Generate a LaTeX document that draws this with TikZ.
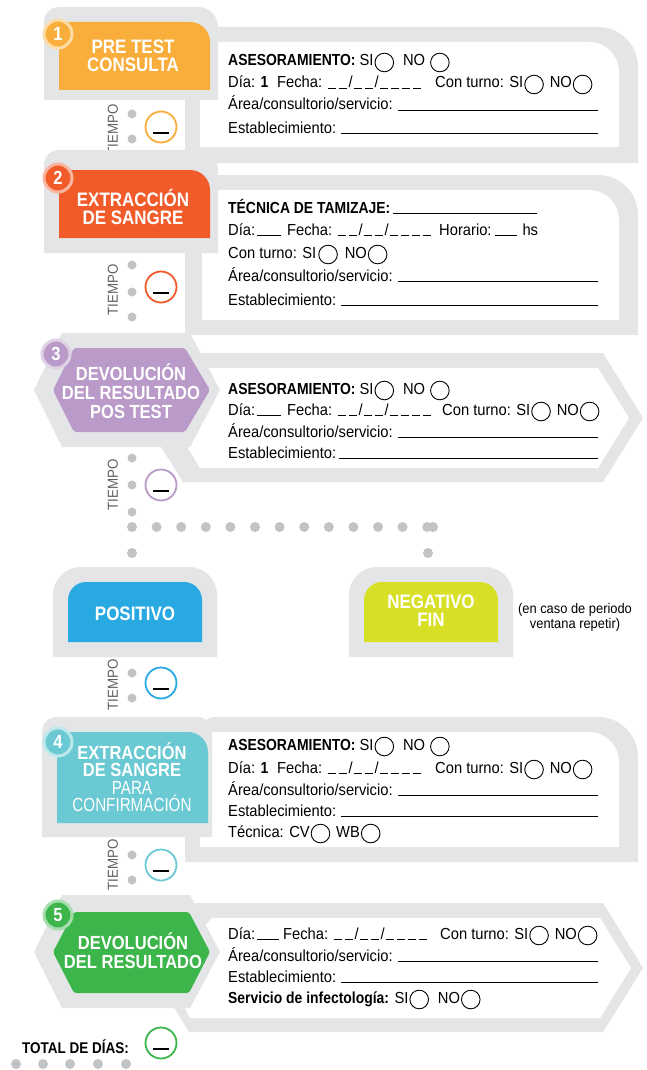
\documentclass[tikz,border=0pt]{standalone}
\usepackage{fontspec}
\setmainfont{Liberation Sans}[FakeStretch=0.92,BoldFeatures={FakeStretch=0.87}]
\newfontfamily\estrecha{Liberation Sans}[FakeStretch=0.8]

\definecolor{framegrey}{HTML}{E4E5E6}
\definecolor{dotgrey}{HTML}{C2C3C5}
\definecolor{pretest}{HTML}{F9AE3B}
\definecolor{extraccion}{HTML}{F15B2A}
\definecolor{devolucion}{HTML}{B99AC8}
\definecolor{positivo}{HTML}{29A9E1}
\definecolor{negativo}{HTML}{D7DF27}
\definecolor{confirma}{HTML}{6AC9D2}
\definecolor{resultado}{HTML}{3CB54A}

\newcommand\circulo{\tikz[baseline=-3.5pt]\draw[line width=0.9pt] (0,0) circle (9.3pt);}
\newcommand\hueco[1]{\rule[-1pt]{#1}{0.9pt}}
\newcommand\fecha{\hueco{8pt}\kern3pt\hueco{8pt}\kern2pt/\kern1pt\hueco{8pt}\kern3pt\hueco{8pt}\kern2pt/\kern1pt\hueco{8pt}\kern3pt\hueco{8pt}\kern3pt\hueco{8pt}\kern3pt\hueco{8pt}}
\newcommand\formfont{\fontsize{16}{18}\selectfont}
\newcommand\titlefont{\fontsize{19.5}{18}\selectfont\bfseries}

\begin{document}
\begin{tikzpicture}[x=1pt,y=-1pt,
  insignia/.style={circle,fill=#1,draw=#1!45!white,line width=3pt,minimum size=28pt,inner sep=0pt,text=white,font=\fontsize{19}{19}\selectfont\bfseries},
  titulo/.style={text=white,align=center,font=\titlefont,inner sep=0pt},
  tiempo/.style={rotate=90,text=black!62,font=\fontsize{14.5}{15}\selectfont,inner sep=0pt},
  reloj/.style={circle,draw=#1,line width=1.8pt,fill=white,minimum size=31pt,inner sep=0pt},
  campo/.style={anchor=base west,inner sep=0pt,font=\formfont},
  raya/.style={line width=0.9pt},
  guion/.style={line width=1.2pt}]
\useasboundingbox[fill=white] (0,0) rectangle (647,1070);
\coordinate (fin) at (598,0);
\coordinate (fintec) at (537,0);

% 1 pre test
\fill[framegrey] (185,163) -- (185,27) -- (598,27) arc[start angle=-90,end angle=0,radius=40] -- (638,163) -- cycle;
\fill[white] (200,147) -- (200,50) arc[start angle=180,end angle=270,radius=8] -- (589,42) arc[start angle=-90,end angle=0,radius=30] -- (619,147) -- cycle;
\fill[framegrey] (44,100) -- (44,22) arc[start angle=180,end angle=270,radius=15] -- (198,7) arc[start angle=-90,end angle=0,radius=20] -- (218,100) -- cycle;
\fill[pretest] (59,90) -- (59,28) arc[start angle=180,end angle=270,radius=6] -- (190,22) arc[start angle=-90,end angle=0,radius=20] -- (210,90) -- cycle;
\node[titulo] (s1t) at (133,56) {PRE TEST\\CONSULTA};
\node[insignia=pretest] (s1n) at (58,34) {1};
\node[campo] (s1a) at (228,66) {\textbf{ASESORAMIENTO:} SI\kern1pt\circulo\hspace{9pt}NO\hspace{5pt}\circulo};
\node[campo] (s1b) at (228,88) {\makebox[49pt][l]{Día: \textbf{1}}\makebox[158pt][l]{Fecha: \fecha}Con turno: SI\kern1pt\circulo\hspace{6pt}NO\kern1pt\circulo};
\node[campo] (s1c) at (228,110) {Área/consultorio/servicio:};
\node[campo] (s1d) at (228,133) {Establecimiento:};
\draw[raya] ([xshift=5pt]s1c.base east) -- (s1c.base east -| fin);
\draw[raya] ([xshift=5pt]s1d.base east) -- (s1d.base east -| fin);
\node[tiempo] (s1tiempo) at (113,130) {TIEMPO};
\foreach \y in {114,139} \fill[dotgrey] (132,\y) circle (4.5);
\node[reloj=pretest] (s1reloj) at (161,127) {};
\draw[guion] ([shift={(-8,6)}]s1reloj.center) -- ++(16,0);

% 2 extraccion
\fill[framegrey] (185,335) -- (185,175) -- (598,175) arc[start angle=-90,end angle=0,radius=40] -- (638,335) -- cycle;
\fill[white] (202,320) -- (202,198) arc[start angle=180,end angle=270,radius=8] -- (589,190) arc[start angle=-90,end angle=0,radius=30] -- (619,320) -- cycle;
\fill[framegrey] (44,253) -- (44,165) arc[start angle=180,end angle=270,radius=15] -- (198,150) arc[start angle=-90,end angle=0,radius=20] -- (218,253) -- cycle;
\fill[extraccion] (59,238) -- (59,176) arc[start angle=180,end angle=270,radius=6] -- (190,170) arc[start angle=-90,end angle=0,radius=20] -- (210,238) -- cycle;
\node[titulo] (s2t) at (133,207) {EXTRACCIÓN\\DE SANGRE};
\node[insignia=extraccion] (s2n) at (58,178) {2};
\node[campo] (s2a) at (228,213) {\textbf{TÉCNICA DE TAMIZAJE:}};
\draw[raya] ([xshift=2pt]s2a.base east) -- (s2a.base east -| fintec);
\node[campo] (s2b) at (228,235) {\makebox[59pt][l]{Día:\kern2pt\hueco{24pt}}\makebox[152pt][l]{Fecha: \fecha}Horario:\kern3pt\hueco{22pt}\kern6pt hs};
\node[campo] (s2c) at (228,258) {Con turno: SI\kern2pt\circulo\hspace{7pt}NO\kern1pt\circulo};
\node[campo] (s2d) at (228,281) {Área/consultorio/servicio:};
\node[campo] (s2e) at (228,305) {Establecimiento:};
\draw[raya] ([xshift=5pt]s2d.base east) -- (s2d.base east -| fin);
\draw[raya] ([xshift=5pt]s2e.base east) -- (s2e.base east -| fin);
\node[tiempo] (s2tiempo) at (113,290) {TIEMPO};
\foreach \y in {265,292,317} \fill[dotgrey] (132,\y) circle (4.5);
\node[reloj=extraccion] (s2reloj) at (161,287) {};
\draw[guion] ([shift={(-8,6)}]s2reloj.center) -- ++(16,0);

% 3 devolucion pos test
\fill[framegrey] (183,353) -- (603,353) -- (643,418) -- (603,482) -- (183,482) -- (143,418) -- cycle;
\fill[white] (205,368) -- (598,368) -- (629,418) -- (598,468) -- (200,468) -- (170,418) -- cycle;
\fill[framegrey] (62,333) -- (190,333) -- (220,390) -- (190,447) -- (62,447) -- (34,390) -- cycle;
\fill[devolucion, rounded corners=2pt] (74,348) -- (185,348) -- (210,390) -- (185,432) -- (74,432) -- (53,390) -- cycle;
\node[titulo,font=\fontsize{19}{19}\selectfont\bfseries] (s3t) at (131,391) {DEVOLUCIÓN\\DEL RESULTADO\\POS TEST};
\node[insignia=devolucion] (s3n) at (56,354) {3};
\node[campo] (s3a) at (228,394) {\textbf{ASESORAMIENTO:} SI\kern1pt\circulo\hspace{9pt}NO\hspace{5pt}\circulo};
\node[campo] (s3b) at (228,415) {\makebox[59pt][l]{Día:\kern2pt\hueco{24pt}}\makebox[155pt][l]{Fecha: \fecha}Con turno: SI\kern1pt\circulo\hspace{6pt}NO\kern1pt\circulo};
\node[campo] (s3c) at (228,437) {Área/consultorio/servicio:};
\node[campo] (s3d) at (228,458) {Establecimiento:};
\draw[raya] ([xshift=5pt]s3c.base east) -- (s3c.base east -| fin);
\draw[raya] ([xshift=3pt]s3d.base east) -- (s3d.base east -| fin);
\node[tiempo] (s3tiempo) at (113,485) {TIEMPO};
\foreach \y in {458,485,512} \fill[dotgrey] (132,\y) circle (4.5);
\node[reloj=devolucion] (s3reloj) at (161,485) {};
\draw[guion] ([shift={(-8,6)}]s3reloj.center) -- ++(16,0);

% resultado: positivo / negativo
\foreach \i in {0,...,12} \fill[dotgrey] (132+24.6*\i,527) circle (5);
\fill[dotgrey] (433,527) circle (5);
\fill[dotgrey] (132,553) circle (5);
\fill[dotgrey] (428,553) circle (5);
\fill[framegrey] (53,657) -- (53,595) arc[start angle=180,end angle=270,radius=28] -- (189,567) arc[start angle=-90,end angle=0,radius=28] -- (217,657) -- cycle;
\fill[positivo] (68,642) -- (68,600) arc[start angle=180,end angle=270,radius=18] -- (184,582) arc[start angle=-90,end angle=0,radius=18] -- (202,642) -- cycle;
\fill[framegrey] (349,657) -- (349,595) arc[start angle=180,end angle=270,radius=28] -- (485,567) arc[start angle=-90,end angle=0,radius=28] -- (513,657) -- cycle;
\fill[negativo] (364,642) -- (364,600) arc[start angle=180,end angle=270,radius=18] -- (480,582) arc[start angle=-90,end angle=0,radius=18] -- (498,642) -- cycle;
\node[titulo] (post) at (135,614) {POSITIVO};
\node[titulo] (negt) at (431,611) {NEGATIVO\\FIN};
\node[align=center,font=\fontsize{14}{15}\selectfont,inner sep=0pt] (nota) at (575,617) {(en caso de periodo\\ventana repetir)};
\node[tiempo] (ptiempo) at (113,685) {TIEMPO};
\foreach \y in {673,698} \fill[dotgrey] (132,\y) circle (4.5);
\node[reloj=positivo] (preloj) at (161,683) {};
\draw[guion] ([shift={(-8,6)}]preloj.center) -- ++(16,0);

% 4 extraccion para confirmacion
\fill[framegrey] (185,862) -- (185,760) -- (200,760) -- (200,732) arc[start angle=180,end angle=270,radius=15] -- (598,717) arc[start angle=-90,end angle=0,radius=40] -- (638,862) -- cycle;
\fill[white] (200,847) -- (200,740) arc[start angle=180,end angle=270,radius=8] -- (589,732) arc[start angle=-90,end angle=0,radius=30] -- (619,847) -- cycle;
\fill[framegrey] (42,837) -- (42,732) arc[start angle=180,end angle=270,radius=15] -- (197,717) arc[start angle=-90,end angle=0,radius=15] -- (212,837) -- cycle;
\fill[confirma] (57,823) -- (57,738) arc[start angle=180,end angle=270,radius=6] -- (188,732) arc[start angle=-90,end angle=0,radius=20] -- (208,823) -- cycle;
\node[titulo,font=\fontsize{19}{17.5}\selectfont] (s4t) at (132,777) {\textbf{EXTRACCIÓN}\\\textbf{DE SANGRE}\\{\estrecha PARA}\\{\estrecha CONFIRMACIÓN}};
\node[insignia=confirma] (s4n) at (58,742) {4};
\node[campo] (s4a) at (228,750) {\textbf{ASESORAMIENTO:} SI\kern1pt\circulo\hspace{9pt}NO\hspace{5pt}\circulo};
\node[campo] (s4b) at (228,773) {\makebox[49pt][l]{Día: \textbf{1}}\makebox[158pt][l]{Fecha: \fecha}Con turno: SI\kern1pt\circulo\hspace{6pt}NO\kern1pt\circulo};
\node[campo] (s4c) at (228,795) {Área/consultorio/servicio:};
\node[campo] (s4d) at (228,816) {Establecimiento:};
\node[campo] (s4e) at (228,837) {Técnica: CV\kern1pt\circulo\hspace{6pt}WB\kern1pt\circulo};
\draw[raya] ([xshift=5pt]s4c.base east) -- (s4c.base east -| fin);
\draw[raya] ([xshift=5pt]s4d.base east) -- (s4d.base east -| fin);
\node[tiempo] (s4tiempo) at (113,865) {TIEMPO};
\foreach \y in {855,880} \fill[dotgrey] (132,\y) circle (4.5);
\node[reloj=confirma] (s4reloj) at (161,865) {};
\draw[guion] ([shift={(-8,6)}]s4reloj.center) -- ++(16,0);

% 5 devolucion del resultado
\fill[framegrey] (189,903) -- (603,903) -- (643,968) -- (603,1032) -- (189,1032) -- (150,968) -- cycle;
\fill[white] (212,918) -- (600,918) -- (631,968) -- (600,1018) -- (190,1018) -- (165,968) -- cycle;
\fill[framegrey] (62,895) -- (190,895) -- (220,952) -- (190,1008) -- (62,1008) -- (34,952) -- cycle;
\fill[resultado, rounded corners=2pt] (74,912) -- (189,912) -- (210,952) -- (189,993) -- (74,993) -- (53,952) -- cycle;
\node[titulo,font=\fontsize{19}{19}\selectfont\bfseries] (s5t) at (133,951) {DEVOLUCIÓN\\DEL RESULTADO};
\node[insignia=resultado] (s5n) at (58,915) {5};
\node[campo] (s5a) at (228,939) {\makebox[55pt][l]{Día:\kern2pt\hueco{22pt}}\makebox[157pt][l]{Fecha: \fecha}Con turno: SI\kern1pt\circulo\hspace{6pt}NO\kern1pt\circulo};
\node[campo] (s5b) at (228,961) {Área/consultorio/servicio:};
\node[campo] (s5c) at (228,982) {Establecimiento:};
\node[campo] (s5d) at (228,1003) {\textbf{Servicio de infectología:} SI\kern1pt\circulo\hspace{9pt}NO\kern1pt\circulo};
\draw[raya] ([xshift=5pt]s5b.base east) -- (s5b.base east -| fin);
\draw[raya] ([xshift=5pt]s5c.base east) -- (s5c.base east -| fin);

% total
\node[anchor=east,inner sep=0pt,font=\fontsize{15.5}{16}\selectfont\bfseries] (total) at (129,1047) {TOTAL DE DÍAS:};
\node[reloj=resultado] (treloj) at (161,1043) {};
\draw[guion] ([shift={(-8,6)}]treloj.center) -- ++(16,0);
\foreach \x in {16,43,70,98,126} \fill[dotgrey] (\x,1064) circle (5);
\end{tikzpicture}
\end{document}
